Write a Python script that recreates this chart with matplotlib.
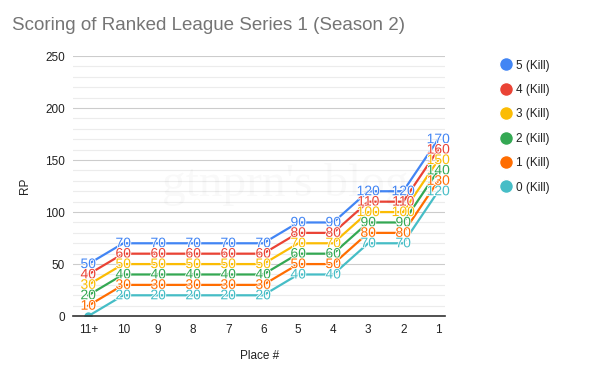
import matplotlib
matplotlib.use("Agg")
import matplotlib.pyplot as plt
import matplotlib.patheffects as pe
from matplotlib.lines import Line2D

places = ["11+", "10", "9", "8", "7", "6", "5", "4", "3", "2", "1"]
series_names = ["5 (Kill)", "4 (Kill)", "3 (Kill)", "2 (Kill)", "1 (Kill)", "0 (Kill)"]
kill5 = [50, 70, 70, 70, 70, 70, 90, 90, 120, 120, 170]
kill4 = [40, 60, 60, 60, 60, 60, 80, 80, 110, 110, 160]
kill3 = [30, 50, 50, 50, 50, 50, 70, 70, 100, 100, 150]
kill2 = [20, 40, 40, 40, 40, 40, 60, 60, 90, 90, 140]
kill1 = [10, 30, 30, 30, 30, 30, 50, 50, 80, 80, 130]
kill0 = [0, 20, 20, 20, 20, 20, 40, 40, 70, 70, 120]
colors = ["#4285f4", "#ea4335", "#fbbc04", "#34a853", "#ff6d01", "#46bdc6"]
all_series = [kill5, kill4, kill3, kill2, kill1, kill0]

plt.rcParams['font.family'] = ['Liberation Sans', 'DejaVu Sans']
fig = plt.figure(figsize=(6, 3.71), dpi=100)
ax = fig.add_axes([0.122, 0.148, 0.62, 0.701])
x = list(range(len(places)))

for name, vals, c in reversed(list(zip(series_names, all_series, colors))):
    ax.plot(x, vals, color=c, lw=1.6, zorder=3)
for name, vals, c in zip(series_names, all_series, colors):
    for xi, v in zip(x, vals):
        if v == 0:
            ax.plot([xi], [v], 'o', color=c, ms=5, zorder=4)
            continue
        ax.text(xi, v, str(v), color=c, fontsize=10, ha='center', va='center', zorder=5,
                path_effects=[pe.withStroke(linewidth=1.2, foreground='white')])

ax.set_xlim(-0.43, 10.2)
ax.set_ylim(0, 250)
ax.set_yticks([0, 50, 100, 150, 200, 250])
ax.set_yticks(range(0, 251, 10), minor=True)
ax.grid(axis='y', which='major', color='#cccccc', lw=0.8, zorder=0)
ax.grid(axis='y', which='minor', color='#ececec', lw=0.8, zorder=0)
ax.set_xticks(x)
ax.set_xticklabels(places)
ax.tick_params(axis='both', length=0, labelsize=8.5, colors='#222222', pad=6)
ax.tick_params(axis='y', which='minor', length=0)
for s in ['top', 'right', 'left']:
    ax.spines[s].set_visible(False)
ax.spines['bottom'].set_color('#333333')
ax.spines['bottom'].set_linewidth(1.2)
ax.spines['bottom'].set_zorder(6)
ax.set_xlabel("Place #", fontsize=8.5, color='#222222', labelpad=10)
ax.set_ylabel("RP", fontsize=8.5, color='#222222', labelpad=10)

fig.text(12/600, 1 - 30/371, "Scoring of Ranked League Series 1 (Season 2)",
         fontsize=13.5, color='#757575', ha='left', va='baseline')

# watermark
fig.text(285/600, 1 - 185/371, "gtnprn's blog", fontsize=34, color='#000000', alpha=0.025,
         family='Liberation Serif', ha='center', va='center')

handles = [Line2D([0], [0], marker='o', color='w', markerfacecolor=c, markersize=10, lw=0)
           for c in colors]
fig.legend(handles, series_names, loc='upper left', bbox_to_anchor=(488/600, 1 - 49/371),
           frameon=False, fontsize=8.5, labelspacing=1.05, handletextpad=0.3,
           handlelength=1.2, labelcolor='#222222')

fig.savefig("out.png", dpi=100)
